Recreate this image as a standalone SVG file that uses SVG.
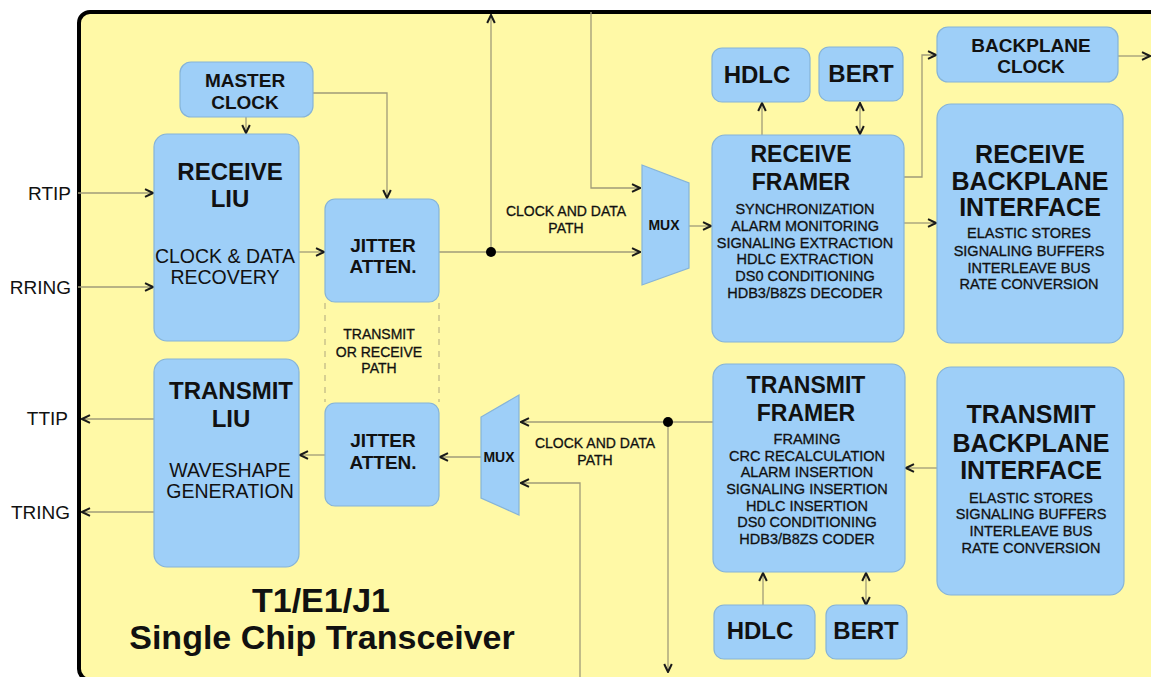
<svg xmlns="http://www.w3.org/2000/svg" width="1151" height="677" viewBox="0 0 1151 677">
<style>
text{font-family:"Liberation Sans",Arial,sans-serif;fill:#111;text-anchor:middle}
.box{fill:#9ECFF8;stroke:#86B4D8;stroke-width:1.2}
.b24{font-size:24px;font-weight:bold}
.b23{font-size:23px;font-weight:bold}
.b25{font-size:25px;font-weight:bold}
.b19{font-size:19px;font-weight:bold}
.b14{font-size:14px;font-weight:bold}
.r19{font-size:19.5px}
.r14{font-size:14.5px;stroke:#111;stroke-width:0.3}
.r13{font-size:14px;stroke:#111;stroke-width:0.3}
.pin{font-size:19px;text-anchor:end}
.title{font-size:34px;font-weight:bold}
.ln{fill:none;stroke:#A09B78;stroke-width:1.3}
.dash{fill:none;stroke:#BDB585;stroke-width:1.2;stroke-dasharray:6 6}
</style>
<defs>
<marker id="arr" viewBox="0 0 10 10" refX="9" refY="5" markerWidth="10" markerHeight="10" markerUnits="userSpaceOnUse" orient="auto-start-reverse">
<path d="M1,1.2 L9,5 L1,8.8" fill="none" stroke="#1a1a1a" stroke-width="2"/>
</marker>
</defs>
<rect width="1151" height="677" fill="#ffffff"/>
<rect id="panel" x="79" y="12" width="1120" height="668" rx="11" fill="#FFF9A6" stroke="#000" stroke-width="4"/>

<g id="connectors">
<path class="ln" d="M78,193 H153" marker-end="url(#arr)"/>
<path class="ln" d="M78,287 H153" marker-end="url(#arr)"/>
<path class="ln" d="M154,419 H82" marker-end="url(#arr)"/>
<path class="ln" d="M154,512 H82" marker-end="url(#arr)"/>
<path class="ln" d="M246,117 V133" marker-end="url(#arr)"/>
<path class="ln" d="M313,93 H387 V198" marker-end="url(#arr)"/>
<path class="ln" d="M299,252 H324" marker-end="url(#arr)"/>
<path class="ln" d="M439,252 H640" marker-end="url(#arr)"/>
<path class="ln" d="M491,252 V15" marker-end="url(#arr)"/>
<path class="ln" d="M591,12 V188 H640" marker-end="url(#arr)"/>
<path class="ln" d="M689,226 H711" marker-end="url(#arr)"/>
<path class="ln" d="M762,135 V103" marker-end="url(#arr)"/>
<path class="ln" d="M860,103 V134" marker-start="url(#arr)" marker-end="url(#arr)"/>
<path class="ln" d="M904,177 H922 V55 H936" marker-end="url(#arr)"/>
<path class="ln" d="M904,223 H936" marker-end="url(#arr)"/>
<path class="ln" d="M1118,56 H1150" marker-end="url(#arr)"/>
<path class="ln" d="M937,468 H906" marker-end="url(#arr)"/>
<path class="ln" d="M713,422 H521" marker-end="url(#arr)"/>
<path class="ln" d="M668,422 V672" marker-end="url(#arr)"/>
<path class="ln" d="M580,677 V483 H521" marker-end="url(#arr)"/>
<path class="ln" d="M481,457 H440" marker-end="url(#arr)"/>
<path class="ln" d="M325,455 H300" marker-end="url(#arr)"/>
<path class="ln" d="M763,605 V573" marker-end="url(#arr)"/>
<path class="ln" d="M866,605 V573" marker-start="url(#arr)" marker-end="url(#arr)"/>
<path class="dash" d="M325,303 V402 M439,303 V402"/>
<circle cx="491" cy="252" r="5" fill="#000"/>
<circle cx="668" cy="422" r="5" fill="#000"/>
</g>

<g id="pins">
<text class="pin" x="71" y="200">RTIP</text>
<text class="pin" x="71" y="294">RRING</text>
<text class="pin" x="68" y="425">TTIP</text>
<text class="pin" x="70" y="519">TRING</text>
</g>

<g id="master-clock">
<rect class="box" x="180" y="62" width="133" height="55" rx="11"/>
<text class="b19" x="245" y="87">MASTER</text>
<text class="b19" x="245" y="109">CLOCK</text>
</g>

<g id="receive-liu">
<rect class="box" x="154" y="134" width="145" height="207" rx="13"/>
<text class="b24" x="230" y="180">RECEIVE</text>
<text class="b24" x="230" y="207">LIU</text>
<text class="r19" x="225" y="263">CLOCK &amp; DATA</text>
<text class="r19" x="225" y="284">RECOVERY</text>
</g>

<g id="jitter-rx">
<rect class="box" x="325" y="199" width="114" height="103" rx="10"/>
<text class="b19" x="383" y="252">JITTER</text>
<text class="b19" x="383" y="273">ATTEN.</text>
</g>

<g id="path-note">
<text class="r13" x="379" y="339">TRANSMIT</text>
<text class="r13" x="379" y="357">OR RECEIVE</text>
<text class="r13" x="379" y="373">PATH</text>
</g>

<g id="jitter-tx">
<rect class="box" x="325" y="403" width="114" height="103" rx="10"/>
<text class="b19" x="383" y="447">JITTER</text>
<text class="b19" x="383" y="469">ATTEN.</text>
</g>

<g id="transmit-liu">
<rect class="box" x="154" y="359" width="145" height="208" rx="13"/>
<text class="b24" x="231" y="399">TRANSMIT</text>
<text class="b24" x="231" y="427">LIU</text>
<text class="r19" x="230" y="477">WAVESHAPE</text>
<text class="r19" x="230" y="498">GENERATION</text>
</g>

<g id="mux-rx">
<polygon class="box" points="642,165 689,183 689,268 642,285"/>
<text class="b14" x="664" y="230">MUX</text>
</g>
<g id="label-rx-path">
<text class="r13" x="566" y="216">CLOCK AND DATA</text>
<text class="r13" x="566" y="233">PATH</text>
</g>

<g id="mux-tx">
<polygon class="box" points="519,395 519,515 481,498 481,417"/>
<text class="b14" x="499" y="462">MUX</text>
</g>
<g id="label-tx-path">
<text class="r13" x="595" y="448">CLOCK AND DATA</text>
<text class="r13" x="595" y="465">PATH</text>
</g>

<g id="hdlc-rx">
<rect class="box" x="712" y="48" width="98" height="54" rx="10"/>
<text class="b24" x="757" y="83">HDLC</text>
</g>
<g id="bert-rx">
<rect class="box" x="819" y="47" width="84" height="54" rx="10"/>
<text class="b24" x="861" y="82">BERT</text>
</g>

<g id="receive-framer">
<rect class="box" x="712" y="135" width="192" height="207" rx="13"/>
<text class="b23" x="801" y="162">RECEIVE</text>
<text class="b23" x="801" y="190">FRAMER</text>
<text class="r14" x="805" y="214">SYNCHRONIZATION</text>
<text class="r14" x="805" y="231">ALARM MONITORING</text>
<text class="r14" x="805" y="248">SIGNALING EXTRACTION</text>
<text class="r14" x="805" y="264">HDLC EXTRACTION</text>
<text class="r14" x="805" y="281">DS0 CONDITIONING</text>
<text class="r14" x="805" y="298">HDB3/B8ZS DECODER</text>
</g>

<g id="backplane-clock">
<rect class="box" x="937" y="27" width="181" height="55" rx="11"/>
<text class="b19" x="1031" y="52">BACKPLANE</text>
<text class="b19" x="1031" y="73">CLOCK</text>
</g>

<g id="receive-backplane">
<rect class="box" x="937" y="104" width="186" height="239" rx="14"/>
<text class="b25" x="1030" y="163">RECEIVE</text>
<text class="b25" x="1030" y="190">BACKPLANE</text>
<text class="b25" x="1030" y="216">INTERFACE</text>
<text class="r14" x="1029" y="238">ELASTIC STORES</text>
<text class="r14" x="1029" y="256">SIGNALING BUFFERS</text>
<text class="r14" x="1029" y="273">INTERLEAVE BUS</text>
<text class="r14" x="1029" y="289">RATE CONVERSION</text>
</g>

<g id="transmit-framer">
<rect class="box" x="713" y="364" width="192" height="208" rx="13"/>
<text class="b23" x="806" y="393">TRANSMIT</text>
<text class="b23" x="806" y="421">FRAMER</text>
<text class="r14" x="807" y="444">FRAMING</text>
<text class="r14" x="807" y="461">CRC RECALCULATION</text>
<text class="r14" x="807" y="477">ALARM INSERTION</text>
<text class="r14" x="807" y="494">SIGNALING INSERTION</text>
<text class="r14" x="807" y="511">HDLC INSERTION</text>
<text class="r14" x="807" y="527">DS0 CONDITIONING</text>
<text class="r14" x="807" y="544">HDB3/B8ZS CODER</text>
</g>

<g id="transmit-backplane">
<rect class="box" x="937" y="367" width="187" height="228" rx="14"/>
<text class="b25" x="1031" y="423">TRANSMIT</text>
<text class="b25" x="1031" y="452">BACKPLANE</text>
<text class="b25" x="1031" y="479">INTERFACE</text>
<text class="r14" x="1031" y="503">ELASTIC STORES</text>
<text class="r14" x="1031" y="519">SIGNALING BUFFERS</text>
<text class="r14" x="1031" y="536">INTERLEAVE BUS</text>
<text class="r14" x="1031" y="553">RATE CONVERSION</text>
</g>

<g id="hdlc-tx">
<rect class="box" x="714" y="605" width="101" height="54" rx="10"/>
<text class="b24" x="760" y="639">HDLC</text>
</g>
<g id="bert-tx">
<rect class="box" x="826" y="605" width="81" height="54" rx="10"/>
<text class="b24" x="866" y="639">BERT</text>
</g>

<g id="title">
<text class="title" x="321" y="612">T1/E1/J1</text>
<text class="title" x="322" y="649">Single Chip Transceiver</text>
</g>
</svg>
